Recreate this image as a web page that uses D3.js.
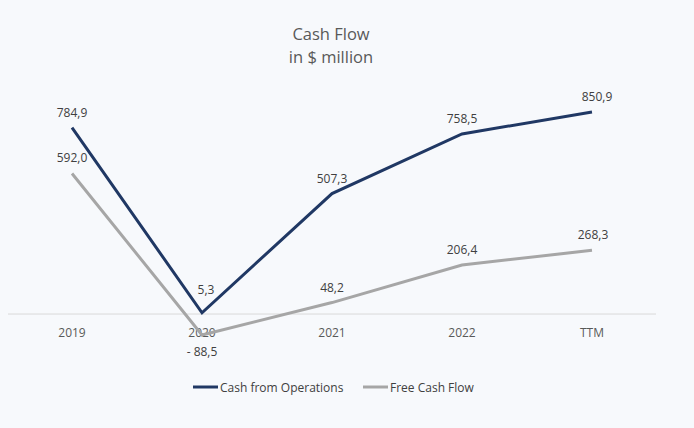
<!DOCTYPE html>
<html><head><meta charset="utf-8">
<script src="https://cdn.jsdelivr.net/npm/d3@7"></script>
<style>
html,body{margin:0;padding:0;background:#f7f9fc;}
svg{display:block;font-family:"Open Sans",sans-serif;}
</style></head>
<body><svg id="c" width="694" height="428"></svg>
<script>
const categories = ["2019","2020","2021","2022","TTM"];
const cashFromOps = [784.9, 5.3, 507.3, 758.5, 850.9];
const freeCashFlow = [592.0, -88.5, 48.2, 206.4, 268.3];
const opsLabels = ["784,9","5,3","507,3","758,5","850,9"];
const fcfLabels = ["592,0","- 88,5","48,2","206,4","268,3"];
const seriesNames = ["Cash from Operations","Free Cash Flow"];
const colors = ["#203864","#a6a6a6"];

const svg = d3.select("#c");
svg.append("rect").attr("width",694).attr("height",428).attr("fill","#f7f9fc");

const x = d3.scalePoint().domain(categories).range([72, 592]);
const y = d3.scaleLinear().domain([-200, 1000]).range([361.5, 76.6]);

// title
svg.append("text").attr("x",331).attr("y",40).attr("text-anchor","middle")
  .attr("font-size",16.5).attr("fill","#595959").text("Cash Flow");
svg.append("text").attr("x",331).attr("y",63).attr("text-anchor","middle")
  .attr("font-size",16.5).attr("fill","#595959").text("in $ million");

// zero axis
svg.append("line").attr("x1",8).attr("x2",656).attr("y1",y(0)).attr("y2",y(0))
  .attr("stroke","#d9d9d9").attr("stroke-width",1);

// category labels
svg.selectAll("text.cat").data(categories).enter().append("text")
  .attr("class","cat").attr("x",d=>x(d)).attr("y",y(0)+23)
  .attr("text-anchor","middle").attr("font-size",12).attr("fill","#595959").text(d=>d);

const line = d3.line().x((d,i)=>x(categories[i])).y(d=>y(d));
[freeCashFlow, cashFromOps].forEach((s,k)=>{
  const ci = k===0?1:0;
  svg.append("path").attr("d",line(s)).attr("fill","none")
    .attr("stroke",colors[ci]).attr("stroke-width",3).attr("stroke-linejoin","miter");
});

// data labels
const opsDx=[0,4,0,0,5];
const opsDy=[-11,-19,-11,-11,-11];
svg.selectAll("text.ops").data(cashFromOps).enter().append("text")
  .attr("x",(d,i)=>x(categories[i])+opsDx[i]).attr("y",(d,i)=>y(d)+opsDy[i])
  .attr("text-anchor","middle").attr("font-size",12).attr("fill","#404040")
  .text((d,i)=>opsLabels[i]);
const fcfDx=[0,0,0,0,1];
svg.selectAll("text.fcf").data(freeCashFlow).enter().append("text")
  .attr("x",(d,i)=>x(categories[i])+fcfDx[i]).attr("y",(d,i)=> d<0 ? y(d)+21 : y(d)-11)
  .attr("text-anchor","middle").attr("font-size",12).attr("fill","#404040")
  .text((d,i)=>fcfLabels[i]);

// legend
const leg = [{x:193},{x:363}];
seriesNames.forEach((n,i)=>{
  svg.append("line").attr("x1",leg[i].x).attr("x2",leg[i].x+25).attr("y1",387).attr("y2",387)
    .attr("stroke",colors[i]).attr("stroke-width",3);
  svg.append("text").attr("x",leg[i].x+27).attr("y",391.5).attr("font-size",12)
    .attr("fill","#404040").text(n);
});
</script></body></html>
